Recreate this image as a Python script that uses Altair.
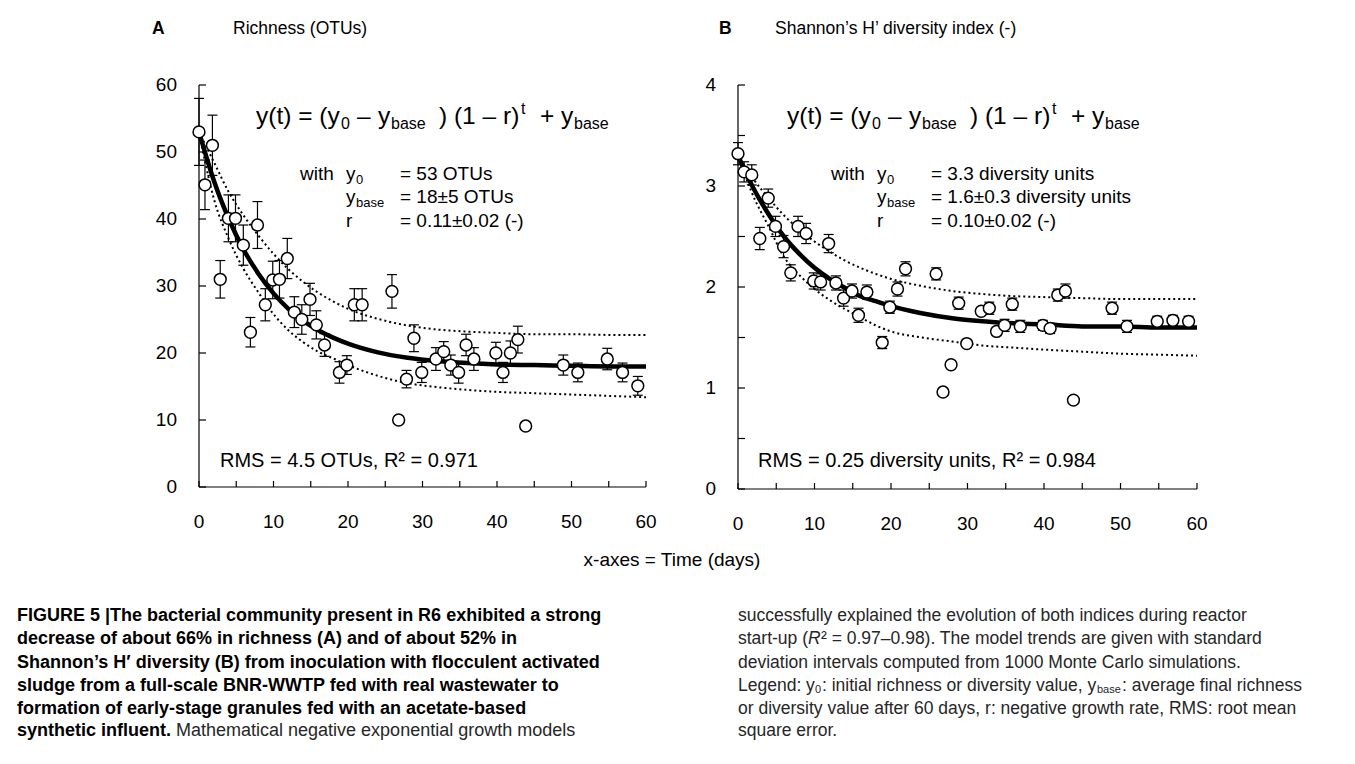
import altair as alt
import pandas as pd

# ---------------- data ----------------
days = [0, 0.8, 1.8, 2.85, 3.95, 4.9, 5.95, 6.9, 7.85, 8.9, 9.9, 10.8, 11.85, 12.8,
        13.8, 14.9, 15.75, 16.85, 18.85, 19.85, 20.85, 21.9, 25.9, 26.8, 27.85, 28.85,
        29.9, 31.8, 32.85, 33.8, 34.85, 35.85, 36.9, 39.85, 40.8, 41.8, 42.8, 43.85,
        48.9, 50.85, 54.8, 56.85, 58.9]

richness = [53.0, 45.1, 51.0, 31.0, 40.1, 40.1, 36.1, 23.1, 39.1, 27.2, 30.9, 31.0, 34.1,
            26.1, 25.0, 28.0, 24.2, 21.2, 17.1, 18.2, 27.2, 27.2, 29.2, 10.0, 16.1, 22.2,
            17.1, 19.1, 20.2, 18.2, 17.1, 21.2, 19.1, 20.0, 17.1, 20.0, 22.0, 9.1, 18.2,
            17.1, 19.1, 17.1, 15.1]
richness_sd = [5.0, 3.7, 4.5, 2.8, 3.5, 3.5, 3.0, 2.2, 3.5, 2.4, 2.8, 2.8, 3.0, 2.3, 2.2,
               2.4, 2.1, 1.7, 1.6, 1.4, 2.4, 2.4, 2.5, 0.5, 1.3, 2.0, 1.5, 1.7, 1.5, 1.5,
               1.6, 1.6, 1.7, 1.6, 1.5, 1.8, 2.0, 0.5, 1.5, 1.4, 1.6, 1.4, 1.4]

shannon = [3.32, 3.14, 3.11, 2.48, 2.88, 2.60, 2.40, 2.14, 2.60, 2.53, 2.06, 2.05, 2.43,
           2.04, 1.89, 1.96, 1.72, 1.95, 1.45, 1.80, 1.98, 2.18, 2.13, 0.96, 1.23, 1.84,
           1.44, 1.76, 1.79, 1.56, 1.62, 1.83, 1.61, 1.62, 1.59, 1.92, 1.96, 0.88, 1.79,
           1.61, 1.66, 1.67, 1.66]
shannon_sd = [0.11, 0.10, 0.10, 0.11, 0.09, 0.10, 0.11, 0.08, 0.10, 0.10, 0.08, 0.08, 0.09,
              0.07, 0.08, 0.07, 0.07, 0.07, 0.06, 0.06, 0.07, 0.07, 0.06, 0.01, 0.03, 0.06,
              0.02, 0.03, 0.06, 0.04, 0.06, 0.06, 0.06, 0.05, 0.05, 0.06, 0.07, 0.01, 0.06,
              0.06, 0.05, 0.05, 0.05]

fit_days = [0, 2, 4, 6, 8, 10, 12, 14, 16, 18, 20, 24, 28, 32, 36, 40, 45, 50, 55, 60]
rich_fit = [53.0, 45.7, 40.0, 35.4, 31.8, 28.9, 26.6, 24.8, 23.4, 22.3, 21.4, 20.1, 19.3,
            18.8, 18.5, 18.3, 18.2, 18.1, 18.0, 18.0]
rich_hi = [53.0, 48.5, 44.0, 40.5, 37.5, 34.8, 32.5, 30.6, 29.0, 27.7, 26.6, 25.1, 24.1,
           23.5, 23.2, 23.0, 22.8, 22.8, 22.7, 22.7]
rich_lo = [53.0, 43.0, 37.0, 32.5, 29.0, 25.8, 23.4, 21.6, 20.2, 19.2, 18.2, 16.6, 15.5,
           14.9, 14.5, 14.2, 14.0, 13.8, 13.6, 13.4]
shan_fit = [3.30, 2.98, 2.72, 2.50, 2.33, 2.19, 2.08, 1.99, 1.91, 1.86, 1.81, 1.74, 1.69,
            1.66, 1.64, 1.63, 1.61, 1.61, 1.60, 1.60]
shan_hi = [3.30, 3.07, 2.88, 2.71, 2.57, 2.45, 2.35, 2.26, 2.19, 2.13, 2.08, 2.01, 1.96,
           1.93, 1.91, 1.90, 1.89, 1.88, 1.88, 1.88]
shan_lo = [3.30, 2.90, 2.60, 2.30, 2.12, 1.98, 1.87, 1.78, 1.70, 1.62, 1.56, 1.50, 1.46,
           1.42, 1.40, 1.38, 1.36, 1.34, 1.33, 1.32]

x_tick_vals = [0, 5, 10, 15, 20, 25, 30, 35, 40, 45, 50, 55, 60]
x_label_vals = [0, 10, 20, 30, 40, 50, 60]
a_y_ticks = [0, 10, 20, 30, 40, 50, 60]
b_y_ticks = [0, 0.5, 1, 1.5, 2, 2.5, 3, 3.5, 4]
b_y_labels = [0, 1, 2, 3, 4]

# ---------------- layout ----------------
FONT = "Liberation Sans"
W, H = 1339, 748
OX, OY = 8, 8
CAP = 17.5
CAPB = 18
GREY = "#262626"


def P(x):
    return x - OX


def Q(y):
    return y - OY


one = pd.DataFrame({"k": [0]})


def label(s, x, y, size=19, weight="normal", style="normal", align="left",
          baseline="alphabetic", font=FONT, color="black"):
    return alt.Chart(one).mark_text(
        text=s, align=align, baseline=baseline, fontSize=size, fontWeight=weight,
        fontStyle=style, font=font, color=color
    ).encode(x=alt.value(P(x)), y=alt.value(Q(y)))


def panel(vals, sds, fit, hi, lo, xr, yr, ydom, ytick_vals, ylab_vals):
    pts = pd.DataFrame({"day": days, "val": vals, "sd": sds})
    curves = pd.DataFrame({"day": fit_days, "fit": fit, "hi": hi, "lo": lo})
    xs = alt.Scale(domain=[0, 60], range=xr, nice=False, zero=False)
    ys = alt.Scale(domain=ydom, range=yr, nice=False, zero=False)

    def X(f):
        return alt.X(f, scale=xs, axis=None)

    def Y(f):
        return alt.Y(f, scale=ys, axis=None)

    base = alt.Chart(pts).transform_calculate(
        lo="datum.val - datum.sd", hi="datum.val + datum.sd")
    err = base.mark_rule(color="black", strokeWidth=1.2).encode(
        x=X("day:Q"), y=Y("lo:Q"), y2="hi:Q")
    cap_lo = base.mark_tick(orient="horizontal", size=10, thickness=1.2,
                            color="black", opacity=1).encode(x=X("day:Q"), y=Y("lo:Q"))
    cap_hi = base.mark_tick(orient="horizontal", size=10, thickness=1.2,
                            color="black", opacity=1).encode(x=X("day:Q"), y=Y("hi:Q"))
    cbase = alt.Chart(curves)
    dot_hi = cbase.mark_line(color="black", strokeWidth=2, strokeDash=[2, 3],
                             interpolate="monotone").encode(x=X("day:Q"), y=Y("hi:Q"))
    dot_lo = cbase.mark_line(color="black", strokeWidth=2, strokeDash=[2, 3],
                             interpolate="monotone").encode(x=X("day:Q"), y=Y("lo:Q"))
    model = cbase.mark_line(color="black", strokeWidth=4.5,
                            interpolate="monotone").encode(x=X("day:Q"), y=Y("fit:Q"))
    points = alt.Chart(pts).mark_point(
        shape="circle", filled=True, fill="white", stroke="black", strokeWidth=1.5,
        size=140, opacity=1).encode(x=X("day:Q"), y=Y("val:Q"))

    # axes drawn through the same scales
    ydomain = alt.Chart(pd.DataFrame({"a": [ydom[0]], "b": [ydom[1]]})).transform_calculate(
        z="0").mark_rule(color="black", strokeWidth=1.2).encode(
        x=X("z:Q"), y=Y("a:Q"), y2="b:Q")
    xdomain = alt.Chart(pd.DataFrame({"a": [0], "b": [60]})).transform_calculate(
        z=str(ydom[0])).mark_rule(color="black", strokeWidth=1.2).encode(
        x=X("a:Q"), x2="b:Q", y=Y("z:Q"))
    yt = alt.Chart(pd.DataFrame({"t": ytick_vals})).transform_calculate(z="0").mark_tick(
        orient="horizontal", size=7, thickness=1.2, color="black", opacity=1,
        xOffset=3.5).encode(x=X("z:Q"), y=Y("t:Q"))
    xt = alt.Chart(pd.DataFrame({"d": x_tick_vals})).transform_calculate(
        z=str(ydom[0])).mark_tick(
        orient="vertical", size=6, thickness=1.2, color="black", opacity=1,
        yOffset=-3).encode(x=X("d:Q"), y=Y("z:Q"))
    ylab = alt.Chart(pd.DataFrame({"t": ylab_vals})).transform_calculate(z="0").mark_text(
        align="right", baseline="middle", dx=-22, fontSize=19, font=FONT,
        color="black").encode(x=X("z:Q"), y=Y("t:Q"), text=alt.Text("t:Q", format="d"))
    xlab = alt.Chart(pd.DataFrame({"d": x_label_vals})).transform_calculate(
        z=str(ydom[0])).mark_text(
        align="center", baseline="top", dy=26, fontSize=19, font=FONT,
        color="black").encode(x=X("d:Q"), y=Y("z:Q"), text=alt.Text("d:Q", format="d"))
    return alt.layer(ydomain, xdomain, yt, xt, ylab, xlab, err, cap_lo, cap_hi,
                     dot_hi, dot_lo, model, points)


panelA = panel(richness, richness_sd, rich_fit, rich_hi, rich_lo,
               xr=[P(199), P(646)], yr=[Q(487), Q(85)], ydom=[0, 60],
               ytick_vals=a_y_ticks, ylab_vals=a_y_ticks)
panelB = panel(shannon, shannon_sd, shan_fit, shan_hi, shan_lo,
               xr=[P(738), P(1197)], yr=[Q(489), Q(85)], ydom=[0, 4],
               ytick_vals=b_y_ticks, ylab_vals=b_y_labels)

texts = []


def equation(x0, yb):
    f, s = 24.5, 16
    return [
        label("y(t) = (y", x0, yb, size=f),
        label("0", x0 + 85, yb + 5, size=s),
        label("–", x0 + 101, yb, size=f),
        label("y", x0 + 122, yb, size=f),
        label("base", x0 + 135, yb + 5, size=s),
        label(") (1 – r)", x0 + 183, yb, size=f),
        label("t", x0 + 265, yb - 10, size=s),
        label("+", x0 + 284, yb, size=f),
        label("y", x0 + 305, yb, size=f),
        label("base", x0 + 318, yb + 5, size=s),
    ]


def params(x0, rows):
    out = [label("with", x0 + 44, 180, size=19)]
    ys = [180, 203, 227]
    subs = ["0", "base", None]
    heads = ["y", "y", "r"]
    for yb, h, sb, val in zip(ys, heads, subs, rows):
        out.append(label(h, x0 + 90, yb, size=19))
        if sb:
            out.append(label(sb, x0 + 100, yb + 4, size=13))
        out.append(label(val, x0 + 144, yb, size=19))
    return out


texts += equation(256, 124)
texts += equation(787, 124)
texts += params(256, ["= 53 OTUs", "= 18±5 OTUs", "= 0.11±0.02 (-)"])
texts += params(787, ["= 3.3 diversity units", "= 1.6±0.3 diversity units",
                      "= 0.10±0.02 (-)"])
texts += [
    label("A", 152, 29, size=17.5, weight="bold", baseline="middle"),
    label("Richness (OTUs)", 233, 29, size=17.5, baseline="middle"),
    label("B", 719, 29, size=17.5, weight="bold", baseline="middle"),
    label("Shannon’s H’ diversity index (-)", 775, 29, size=17.5, baseline="middle"),
    label("RMS = 4.5 OTUs, R² = 0.971", 220, 467, size=20),
    label("RMS = 0.25 diversity units, R² = 0.984", 758, 467, size=20),
    label("x-axes = Time (days)", 672, 560, size=19, align="center", baseline="middle"),
]

left_bold = [
    "FIGURE 5 |The bacterial community present in R6 exhibited a strong",
    "decrease of about 66% in richness (A) and of about 52% in",
    "Shannon’s H′ diversity (B) from inoculation with flocculent activated",
    "sludge from a full-scale BNR-WWTP fed with real wastewater to",
    "formation of early-stage granules fed with an acetate-based",
]
cap_y = [616, 639, 663, 686, 709, 731]
for line, yy in zip(left_bold, cap_y):
    texts.append(label(line, 17, yy, size=CAPB, weight="bold", baseline="middle"))
texts.append(label("synthetic influent.", 17, cap_y[5], size=CAPB, weight="bold",
                   baseline="middle"))
texts.append(label("Mathematical negative exponential growth models", 176, cap_y[5],
                   size=CAPB, baseline="middle", color=GREY))

right_lines = [
    "successfully explained the evolution of both indices during reactor",
    None,
    "deviation intervals computed from 1000 Monte Carlo simulations.",
    None,
    "or diversity value after 60 days, r: negative growth rate, RMS: root mean",
    "square error.",
]
for line, yy in zip(right_lines, cap_y):
    if line:
        texts.append(label(line, 738, yy, size=CAP, baseline="middle", color=GREY))
texts += [
    label("start-up (", 738, cap_y[1], size=CAP, baseline="middle", color=GREY),
    label("R", 808, cap_y[1], size=CAP, style="italic", baseline="middle", color=GREY),
    label("² = 0.97–0.98). The model trends are given with standard", 821, cap_y[1],
          size=CAP, baseline="middle", color=GREY),
    label("Legend: y", 738, cap_y[3], size=CAP, baseline="middle", color=GREY),
    label("0", 815, cap_y[3] + 4, size=11, baseline="middle", color=GREY),
    label(": initial richness or diversity value, y", 822, cap_y[3], size=CAP,
          baseline="middle", color=GREY),
    label("base", 1097, cap_y[3] + 4, size=11, baseline="middle", color=GREY),
    label(": average final richness", 1122, cap_y[3], size=CAP, baseline="middle",
          color=GREY),
]

chart = alt.layer(panelA, panelB, *texts).resolve_scale(
    x="independent", y="independent"
).properties(
    width=W, height=H, padding=0, autosize=alt.AutoSizeParams(type="none"),
    background="white"
).configure_view(stroke=None)

chart.save("out.html", embed_options={"renderer": "svg", "actions": False})
